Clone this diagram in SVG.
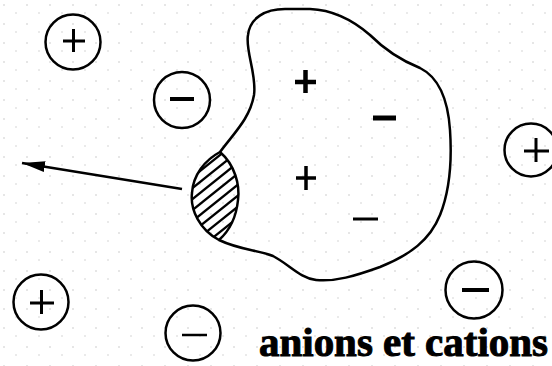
<svg xmlns="http://www.w3.org/2000/svg" width="552" height="366" viewBox="0 0 552 366">
<style>
.ion{fill:none;stroke:#000;stroke-width:2.5}
.sg{stroke:#000;fill:none}
.blob{fill:none;stroke:#000;stroke-width:2.5;stroke-linejoin:round}
.lbl{font-family:"Liberation Serif","DejaVu Serif",serif;font-weight:bold;font-size:41px;fill:#000;stroke:#000;stroke-width:1}
</style>
<defs>
<pattern id="dots" width="23" height="19" patternUnits="userSpaceOnUse">
<rect x="3" y="4" width="2" height="2" fill="#e6e6e6"/>
<rect x="15" y="12" width="2" height="2" fill="#eaeaea"/>
</pattern>
<marker id="ah" markerUnits="userSpaceOnUse" markerWidth="24" markerHeight="12" refX="23" refY="6" orient="auto">
<path d="M0,0.5 L23,6 L0,11.5 Z" fill="#000"/>
</marker>
<clipPath id="lens">
<path d="M220,152 C205,160 193,175 192,193 C190,210 200,230 219,240 C228,232 236,220 238,200 C240,185 235,165 220,152 Z"/>
</clipPath>
</defs>
<rect width="552" height="366" fill="#fff"/>
<rect width="552" height="366" fill="url(#dots)"/>
<g id="particle">
<path class="blob" d="M220,152 C235,132 250,118 254,95 C257,75 245,50 248,35 C250,18 265,9 285,9 L310,9 C335,10 355,22 370,35 C385,50 400,60 420,68 C440,78 448,100 450,130 C452,160 450,190 440,215 C430,240 410,255 380,267 C355,276 335,282 316,280 C300,278 290,265 273,256 C258,250 240,250 219,240 C200,230 190,210 192,193 C193,175 205,160 220,152 Z"/>
<path class="blob" d="M220,152 C235,165 240,185 238,200 C236,220 228,232 219,240"/>
<g clip-path="url(#lens)" stroke="#000" stroke-width="2.3">
<line x1="180" y1="176" x2="250" y2="120"/>
<line x1="180" y1="187" x2="250" y2="131"/>
<line x1="180" y1="198" x2="250" y2="142"/>
<line x1="180" y1="209" x2="250" y2="153"/>
<line x1="180" y1="220" x2="250" y2="164"/>
<line x1="180" y1="231" x2="250" y2="175"/>
<line x1="180" y1="242" x2="250" y2="186"/>
<line x1="180" y1="253" x2="250" y2="197"/>
<line x1="180" y1="264" x2="250" y2="208"/>
<line x1="180" y1="275" x2="250" y2="219"/>
<line x1="180" y1="286" x2="250" y2="230"/>
</g>
<path class="sg" stroke-width="4.5" d="M295,82 H316 M305.5,70 V93"/>
<path class="sg" stroke-width="5" d="M373,118 H396"/>
<path class="sg" stroke-width="3.5" d="M296,178 H316 M306,166 V190"/>
<path class="sg" stroke-width="3" d="M353,219 H378"/>
</g>
<g id="ion-plus-1"><circle class="ion" cx="73" cy="42" r="27.5"/><path class="sg" stroke-width="3" d="M63,41 H85 M73.5,29 V52"/></g>
<g id="ion-minus-1"><circle class="ion" cx="182" cy="100" r="28"/><path class="sg" stroke-width="4" d="M170,99 H194"/></g>
<g id="ion-plus-2"><circle class="ion" cx="531" cy="150" r="26.5"/><path class="sg" stroke-width="3" d="M524,151 H549 M536,138 V162"/></g>
<g id="ion-plus-3"><circle class="ion" cx="41" cy="302" r="27.5"/><path class="sg" stroke-width="3" d="M30,303 H54 M41.5,290 V314"/></g>
<g id="ion-minus-2"><circle class="ion" cx="193" cy="333" r="27.5"/><path class="sg" stroke-width="2.5" d="M182,335 H207"/></g>
<g id="ion-minus-3"><circle class="ion" cx="474" cy="290" r="28.5"/><path class="sg" stroke-width="4" d="M462,290 H489"/></g>
<g id="connectors">
<line x1="182" y1="189" x2="22" y2="163" stroke="#000" stroke-width="2.5" marker-end="url(#ah)"/>
</g>
<text class="lbl" x="259" y="356" textLength="289" lengthAdjust="spacingAndGlyphs">anions et cations</text>
</svg>
